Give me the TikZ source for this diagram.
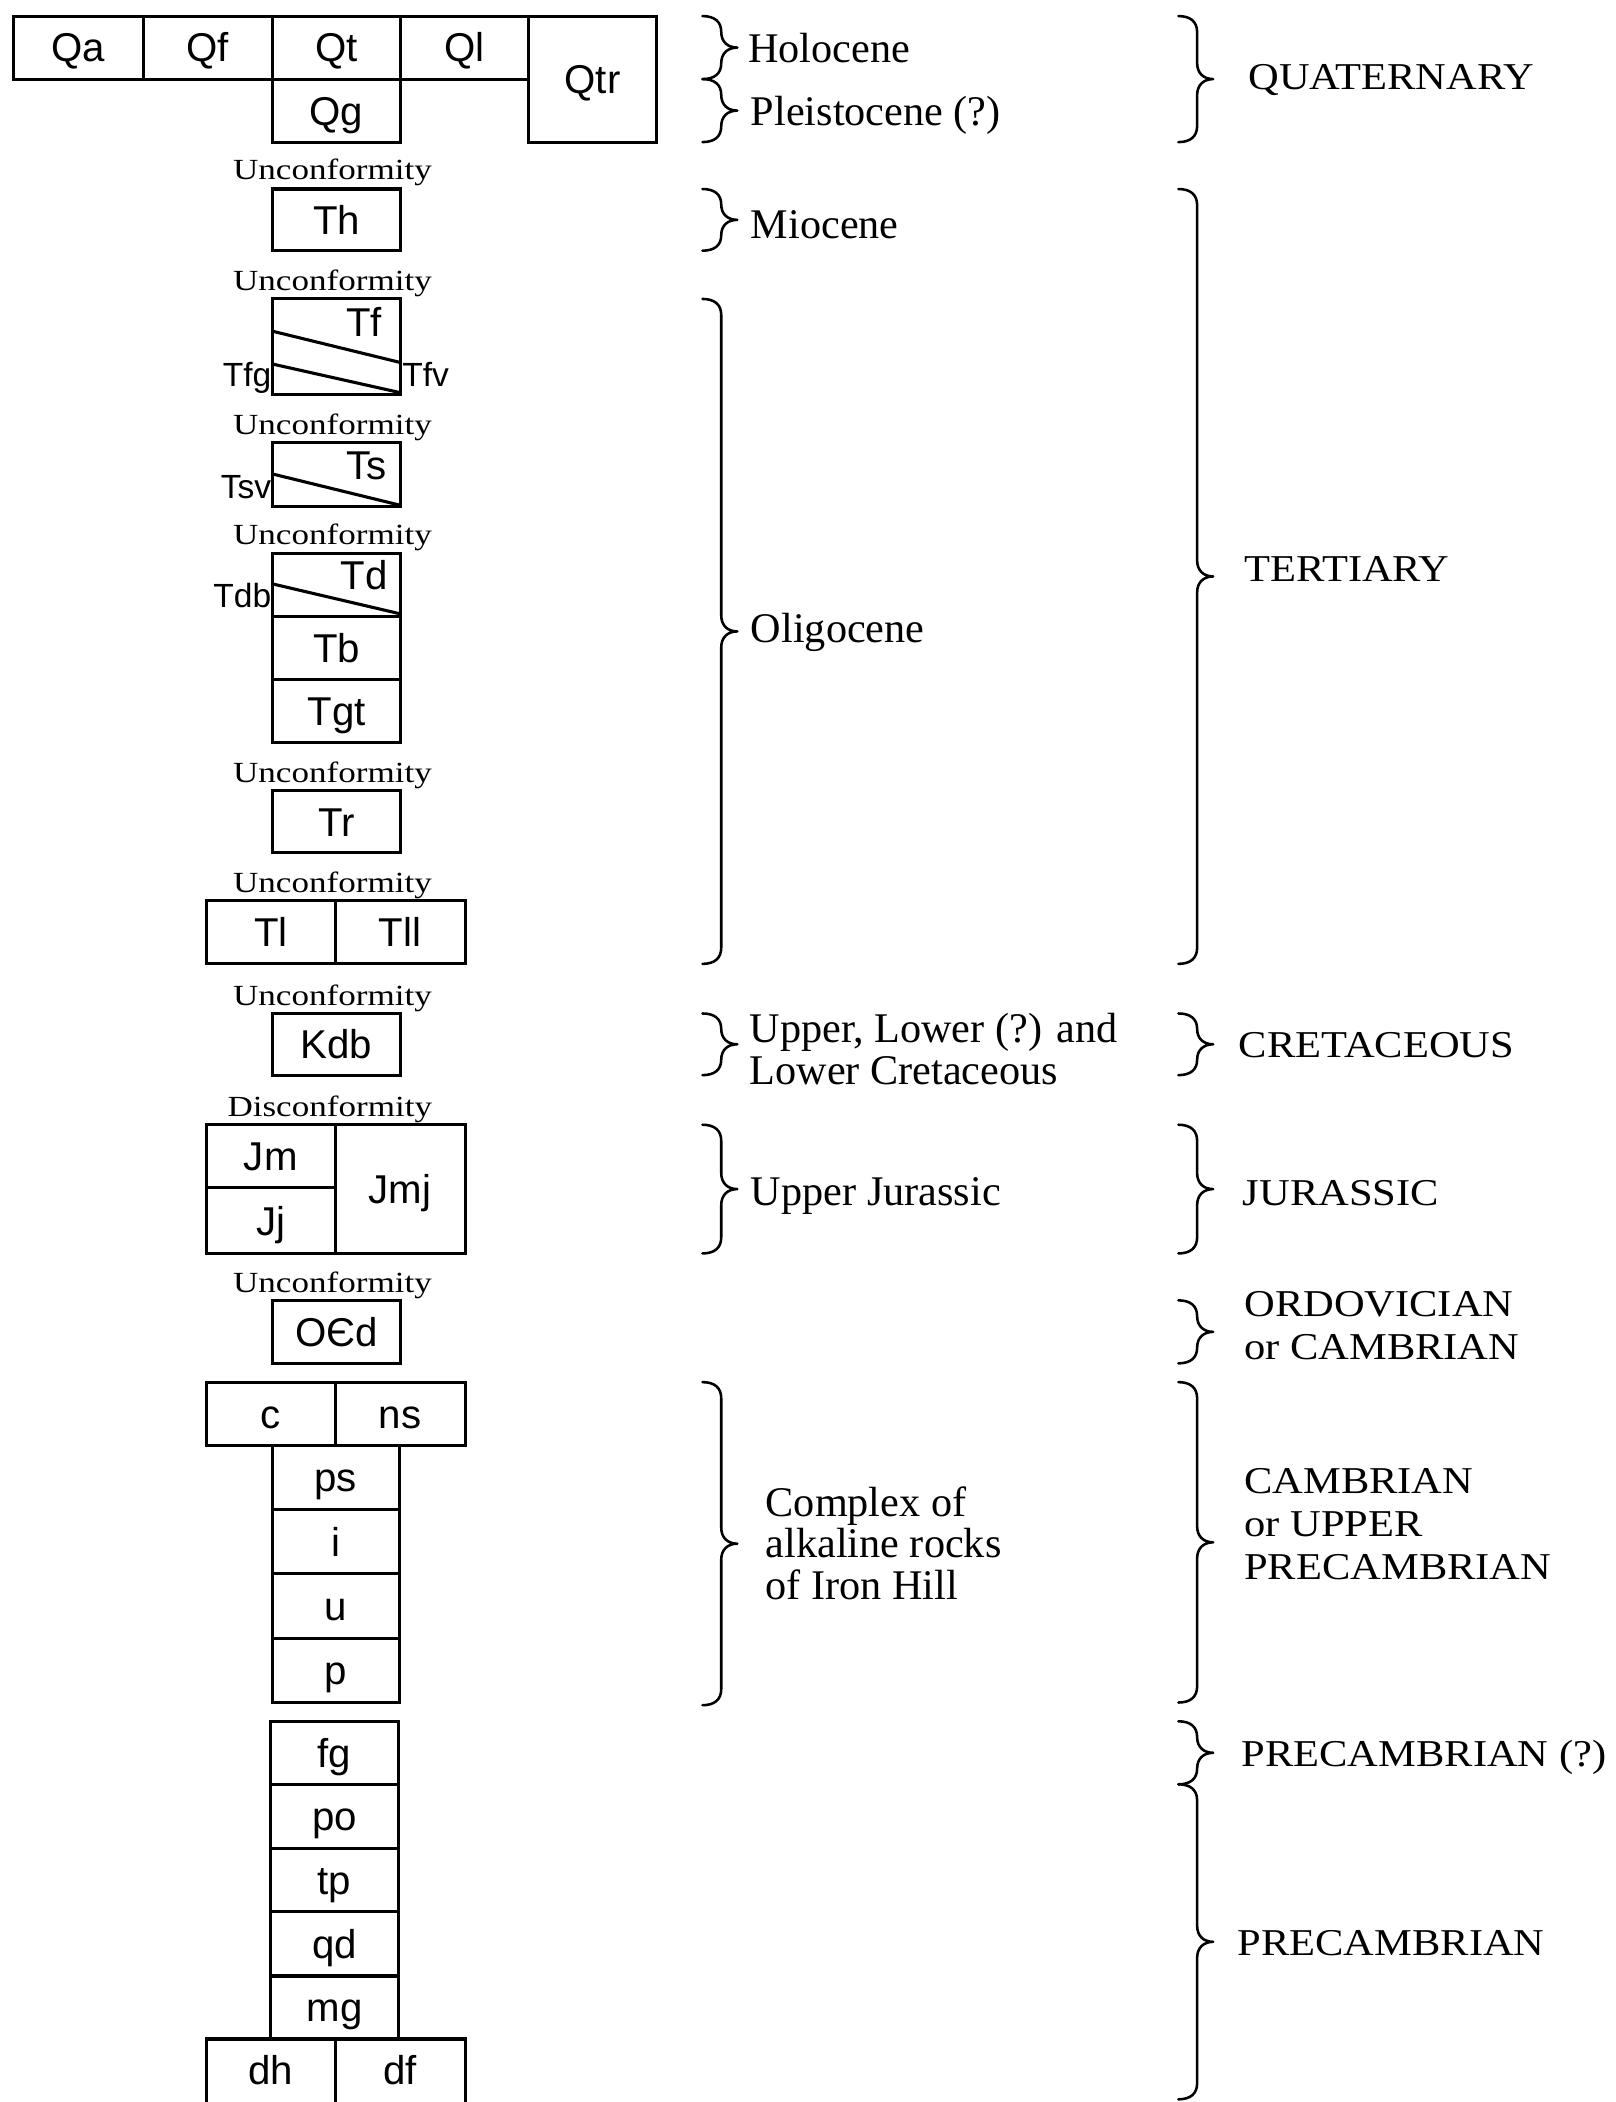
\documentclass[tikz,border=0pt]{standalone}
\usepackage{fontspec}
\setmainfont{Liberation Serif}
\newfontfamily\labfam{Liberation Sans}
\newfontfamily\uncfam[FakeStretch=1.2]{Liberation Serif}
\newfontfamily\perfam[FakeStretch=1.12]{Liberation Serif}
\newcommand\labfont{\labfam\fontsize{30}{32}\selectfont}
\newcommand\sidefont{\labfam\fontsize{25}{27}\selectfont}
\newcommand\uncfont{\uncfam\fontsize{21.8}{24}\selectfont}
\newcommand\epofont{\fontsize{31.5}{31}\selectfont}
\newcommand\perfont{\perfam\fontsize{28.3}{32}\selectfont}

\tikzset{
  cell/.style={draw, line width=2.3pt, inner sep=0pt, outer sep=0pt, font=\labfont,
               text height=21.5pt, text depth=0pt},
  frame/.style={line width=2.3pt, line cap=butt},
  bracestyle/.style={line width=1.9pt, line cap=round, line join=round},
  unc/.style={font=\uncfont, anchor=base, inner sep=0pt},
  epo/.style={font=\epofont, anchor=base west, inner sep=0pt, align=left},
  per/.style={font=\perfont, anchor=base west, inner sep=0pt, align=left},
  side/.style={font=\sidefont, inner sep=0pt},
  inlab/.style={font=\labfont, anchor=base, inner sep=0pt}
}

\newcommand\cell[6]{%
  \pgfmathsetmacro\gX{(#2+#4)/2}\pgfmathsetmacro\gY{(#3+#5)/2}%
  \pgfmathsetmacro\gW{abs(#4-#2)}\pgfmathsetmacro\gH{abs(#5-#3)}%
  \node[cell, minimum width=\gW pt, minimum height=\gH pt] (#1) at (\gX,\gY) {#6};}

\newcommand\gbrace[3]{%
  \pgfmathsetmacro\bA{#1}\pgfmathsetmacro\bT{#2}\pgfmathsetmacro\bB{#3}%
  \pgfmathsetmacro\bM{(#2+#3)/2}%
  \pgfmathsetmacro\bR{min(12,(#3-#2)/4)}%
  \pgfmathsetmacro\bV{#1+14}%
  \pgfmathsetmacro\bW{#1+26}%
  \draw[bracestyle] (\bA,\bT) .. controls (\bA+9,\bT) and (\bV,\bT+0.35*\bR) .. (\bV,\bT+\bR)
    -- (\bV,\bM-\bR) .. controls (\bV,\bM-0.35*\bR) and (\bV+5,\bM) .. (\bW,\bM)
    .. controls (\bV+5,\bM) and (\bV,\bM+0.35*\bR) .. (\bV,\bM+\bR)
    -- (\bV,\bB-\bR) .. controls (\bV,\bB-0.35*\bR) and (\bA+9,\bB) .. (\bA,\bB);}

\begin{document}
\begin{tikzpicture}[x=1pt,y=-1pt]
\fill[white] (0,0) rectangle (1205,1568);
\useasboundingbox (0,0) rectangle (1205,1568);

% ---------- Quaternary row ----------
\cell{Qa}{10}{12}{107}{59}{Qa}
\cell{Qf}{107}{12}{203}{59}{Qf}
\cell{Qt}{203}{12}{299}{59}{Qt}
\cell{Ql}{299}{12}{394}{59}{Ql}
\cell{Qtr}{394}{12}{490}{106}{Qtr}
\cell{Qg}{203}{59}{299}{106}{Qg}

\node[unc] (u1) at (248,134) {Unconformity};
\cell{Th}{203}{141}{299}{187}{Th}
\node[unc] (u2) at (248,217) {Unconformity};

% Tf / Tfg / Tfv
\cell{Tfbox}{203}{223}{299}{294}{}
\draw[frame] (203,247) -- (299,270.5);
\draw[frame] (203,271.5) -- (299,293);
\node[inlab] (Tf) at (271.5,251) {Tf};
\node[side, anchor=base east] (Tfg) at (202.5,288) {Tfg};
\node[side, anchor=base west] (Tfv) at (300,288) {Tfv};

\node[unc] (u3) at (248,324) {Unconformity};

% Ts / Tsv
\cell{Tsbox}{203}{330}{299}{378}{}
\draw[frame] (203,353.5) -- (299,377);
\node[inlab] (Ts) at (273.5,358) {Ts};
\node[side, anchor=base east] (Tsv) at (202.5,371.5) {Tsv};

\node[unc] (u4) at (248,406) {Unconformity};

% Td / Tdb / Tb / Tgt
\cell{Tdbox}{203}{413}{299}{460}{}
\draw[frame] (203,435.5) -- (299,458);
\node[inlab] (Td) at (271.5,440) {Td};
\node[side, anchor=base east] (Tdb) at (202.5,453.5) {Tdb};
\cell{Tb}{203}{460}{299}{507}{Tb}
\cell{Tgt}{203}{507}{299}{554}{Tgt}

\node[unc] (u5) at (248,584) {Unconformity};
\cell{Tr}{203}{590}{299}{636}{Tr}
\node[unc] (u6) at (248,666) {Unconformity};
\cell{Tl}{154}{672}{250}{719}{Tl}
\cell{Tll}{250}{672}{347}{719}{Tll}
\node[unc] (u7) at (248,750) {Unconformity};
\cell{Kdb}{203}{756}{299}{802}{Kdb}
\node[unc] (disc) at (246,833) {Disconformity};
\cell{Jm}{154}{839}{250}{886}{Jm}
\cell{Jj}{154}{886}{250}{935}{Jj}
\cell{Jmj}{250}{839}{347}{935}{Jmj}
\node[unc] (u8) at (248,964) {Unconformity};
\cell{OCd}{203}{970}{299}{1017}{OЄd}

% alkaline complex
\cell{c}{154}{1031}{250}{1078}{c}
\cell{ns}{250}{1031}{347}{1078}{ns}
\cell{ps}{203}{1078}{298}{1126}{ps}
\cell{i}{203}{1126}{298}{1174}{i}
\cell{u}{203}{1174}{298}{1222}{u}
\cell{p}{203}{1222}{298}{1270}{p}

% Precambrian
\cell{fg}{202}{1284}{297}{1331}{fg}
\cell{po}{202}{1331}{297}{1379}{po}
\cell{tp}{202}{1379}{297}{1426}{tp}
\cell{qd}{202}{1426}{297}{1474}{qd}
\cell{mg}{202}{1474}{297}{1521}{mg}
\node[font=\labfont, text height=21.5pt, text depth=0pt, inner sep=0pt] (dh) at (202,1544.5) {dh};
\node[font=\labfont, text height=21.5pt, text depth=0pt, inner sep=0pt] (df) at (298.5,1544.5) {df};
\draw[frame] (154,1568) -- (154,1521) -- (347,1521) -- (347,1568);
\draw[frame] (250,1521) -- (250,1568);

% ---------- epoch braces and labels ----------
\gbrace{524}{12}{59}
\gbrace{524}{59}{106}
\gbrace{524}{141}{187}
\gbrace{524}{223}{719}
\gbrace{524}{756}{802}
\gbrace{524}{839}{935}
\gbrace{524}{1031}{1272}

\node[epo] (holo) at (558,46.7) {Holocene};
\node[epo] (pleis) at (560,93.5) {Pleistocene (?)};
\node[epo] (mio) at (560,178) {Miocene};
\node[epo] (oligo) at (560,479) {Oligocene};
\node[epo] (ucret) at (559,809) {Upper, Lower (?) and\\Lower Cretaceous};
\node[epo] (ujur) at (560,899) {Upper Jurassic};
\node[epo] (cplx) at (571,1193) {Complex of\\alkaline rocks\\of Iron Hill};

% ---------- period braces and labels ----------
\gbrace{879}{12}{106}
\gbrace{879}{141}{719}
\gbrace{879}{756}{802}
\gbrace{879}{839}{935}
\gbrace{879}{970}{1017}
\gbrace{879}{1031}{1270}
\gbrace{879}{1284}{1331}
\gbrace{879}{1331}{1566}

\node[per] (quat) at (931,66.6) {QUATERNARY};
\node[per] (tert) at (928,434) {TERTIARY};
\node[per] (cret) at (924,789) {CRETACEOUS};
\node[per] (jur) at (927,899) {JURASSIC};
\node[per] (ordo) at (928,1014) {ORDOVICIAN\\or CAMBRIAN};
\node[per] (camb) at (928,1178) {CAMBRIAN\\or UPPER\\PRECAMBRIAN};
\node[per] (precq) at (926,1318) {PRECAMBRIAN (?)};
\node[per] (prec) at (923,1459) {PRECAMBRIAN};
\end{tikzpicture}
\end{document}
